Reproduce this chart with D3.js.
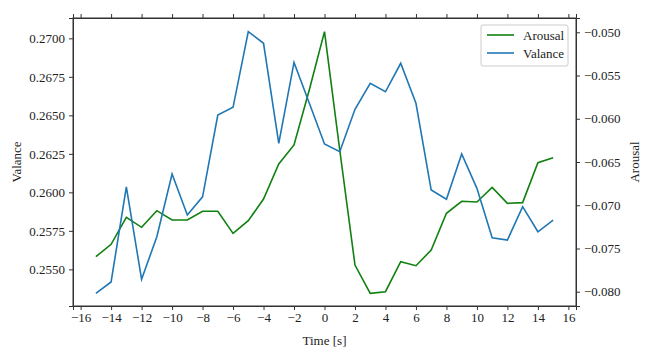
<!DOCTYPE html>
<html lang="en">
  <head>
    <meta charset="utf-8">
    <title>Arousal and Valance</title>
    <script src="https://d3js.org/d3.v7.js"></script>
    <style>
      body { margin: 0; background: #fff; }
    </style>
  </head>

  <body>

  <script>

// Data

  var times = d3.range(-15, 16);

  var valance = [0.25344, 0.25418, 0.26036, 0.25435, 0.25712, 0.26119, 0.25853, 0.25971,
                 0.26502, 0.26552, 0.27043, 0.26968, 0.26318, 0.26844, 0.26580, 0.26314,
                 0.26264, 0.26539, 0.26708, 0.26653, 0.26838, 0.26578, 0.26015, 0.25955,
                 0.26249, 0.26026, 0.25705, 0.25690, 0.25907, 0.25744, 0.25820];

  var arousal = [-0.07595, -0.07452, -0.07140, -0.07255, -0.07063, -0.07171, -0.07171, -0.07070,
                 -0.07070, -0.07325, -0.07179, -0.06928, -0.06523, -0.06303, -0.05667, -0.04993,
                 -0.06361, -0.07691, -0.08018, -0.08000, -0.07653, -0.07699, -0.07518, -0.07093,
                 -0.06954, -0.06963, -0.06793, -0.06978, -0.06970, -0.06508, -0.06450];

  var xTicks = d3.range(-16, 17, 2);
  var valanceTicks = [0.2550, 0.2575, 0.2600, 0.2625, 0.2650, 0.2675, 0.2700];
  var arousalTicks = [-0.080, -0.075, -0.070, -0.065, -0.060, -0.055, -0.050];

  var w = 650;
  var h = 354;
  var margin = {top: 18, right: 74, bottom: 48, left: 73};
  var innerWidth = w - margin.left - margin.right;
  var innerHeight = h - margin.top - margin.bottom;
  var font = "Liberation Serif, serif";

  var svg = d3.select("body")
    .append("svg")
      .attr("width", w)
      .attr("height", h)
      .attr("font-family", font);

  var xScale = d3.scaleLinear()
      .domain([-16.5, 16.5])
      .range([0, innerWidth]);

  var yLeft = d3.scaleLinear()
      .domain([0.25262, 0.27132])
      .range([innerHeight, 0]);

  var yRight = d3.scaleLinear()
      .domain([-0.08165, -0.04835])
      .range([innerHeight, 0]);

  var g = svg.append("g")
      .attr("transform", `translate (${margin.left}, ${margin.top})`);

// Axes

  var xAxis = d3.axisBottom(xScale)
      .tickValues(xTicks)
      .tickSize(4)
      .tickPadding(3)
      .tickFormat(d => d < 0 ? "\u2212" + Math.abs(d) : d);

  var xTop = d3.axisTop(xScale)
      .tickValues(xTicks)
      .tickSize(4)
      .tickFormat("");

  var leftAxis = d3.axisLeft(yLeft)
      .tickValues(valanceTicks)
      .tickSize(4)
      .tickPadding(4)
      .tickFormat(d3.format(".4f"));

  var rightAxis = d3.axisRight(yRight)
      .tickValues(arousalTicks)
      .tickSize(4)
      .tickPadding(4)
      .tickFormat(d => "\u2212" + d3.format(".3f")(Math.abs(d)));

  var axes = [
    g.append("g").attr("transform", `translate (0, ${innerHeight})`).call(xAxis),
    g.append("g").call(xTop),
    g.append("g").call(leftAxis),
    g.append("g").attr("transform", `translate (${innerWidth}, 0)`).call(rightAxis)
  ];

  axes.forEach(a => a.attr("font-family", font).attr("font-size", 13));

  g.selectAll(".tick text")
      .attr("fill", "#222");

  g.selectAll(".domain, .tick line")
      .attr("stroke", "#333");

  g.append("rect")
      .attr("width", innerWidth)
      .attr("height", innerHeight)
      .attr("fill", "none")
      .attr("stroke", "#333");

// Lines

  var valanceLine = d3.line()
      .x((d, i) => xScale(times[i]))
      .y(d => yLeft(d));

  var arousalLine = d3.line()
      .x((d, i) => xScale(times[i]))
      .y(d => yRight(d));

  g.append("path")
      .datum(arousal)
      .attr("d", arousalLine)
      .attr("fill", "none")
      .attr("stroke", "#108010")
      .attr("stroke-width", 1.6);

  g.append("path")
      .datum(valance)
      .attr("d", valanceLine)
      .attr("fill", "none")
      .attr("stroke", "#1f77b4")
      .attr("stroke-width", 1.6);

// Axis titles

  svg.append("text")
      .attr("transform", `translate (16, ${margin.top + innerHeight / 2}) rotate(-90)`)
      .attr("text-anchor", "middle")
      .attr("dy", "0.35em")
      .attr("font-size", 13)
      .attr("fill", "#222")
      .text("Valance");

  svg.append("text")
      .attr("transform", `translate (634, ${margin.top + innerHeight / 2}) rotate(-90)`)
      .attr("text-anchor", "middle")
      .attr("dy", "0.35em")
      .attr("font-size", 13)
      .attr("fill", "#222")
      .text("Arousal");

  svg.append("text")
      .attr("x", margin.left + xScale(0))
      .attr("y", 345)
      .attr("text-anchor", "middle")
      .attr("font-size", 13)
      .attr("fill", "#222")
      .text("Time [s]");

// Legend

  var legend = g.append("g")
      .attr("transform", `translate (${innerWidth - 95}, 7)`);

  legend.append("rect")
      .attr("width", 87)
      .attr("height", 41)
      .attr("rx", 2)
      .attr("fill", "#fff")
      .attr("stroke", "#ccc");

  var items = [{name: "Arousal", color: "#108010"}, {name: "Valance", color: "#1f77b4"}];

  items.forEach(function (d, i) {
    legend.append("line")
        .attr("x1", 6)
        .attr("x2", 33)
        .attr("y1", 10 + i * 18)
        .attr("y2", 10 + i * 18)
        .attr("stroke", d.color)
        .attr("stroke-width", 1.6);
    legend.append("text")
        .attr("x", 42)
        .attr("y", 10 + i * 18)
        .attr("dy", "0.35em")
        .attr("font-size", 13)
        .attr("fill", "#222")
        .text(d.name);
  });

    </script>

  </body>

</html>
